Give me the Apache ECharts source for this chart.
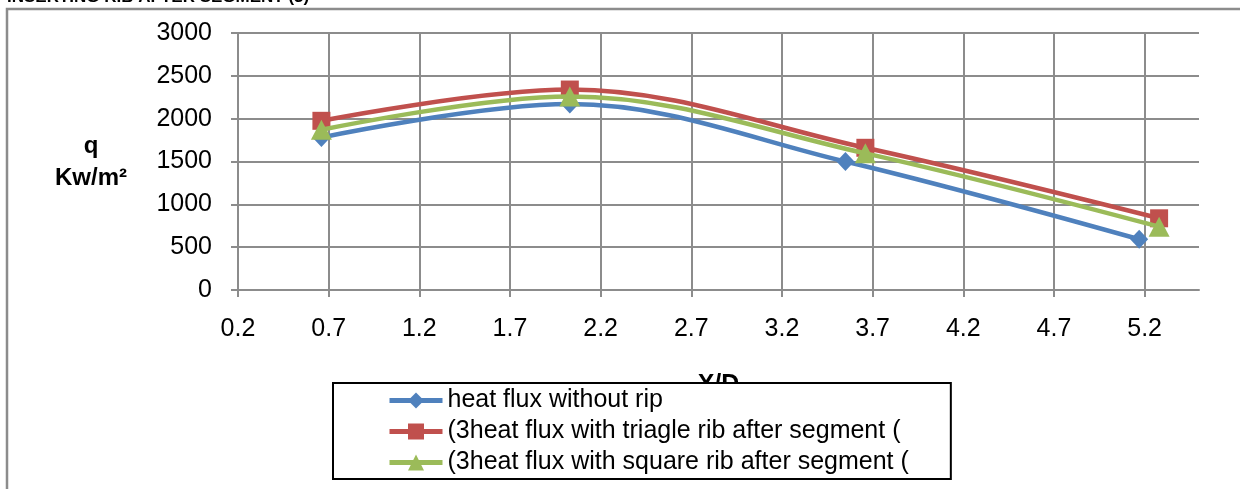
<!DOCTYPE html>
<html>
<head>
<meta charset="utf-8">
<script src="https://cdn.jsdelivr.net/npm/echarts@6/dist/echarts.min.js"></script>
<style>
html,body{margin:0;padding:0;background:#fff;}
#chart{width:1240px;height:489px;}
</style>
</head>
<body>
<div id="chart"></div>
<script>
// ---- data ----
var seriesNames = [
  'heat flux without rip',
  '(3heat flux with triagle rib after segment (',
  '(3heat flux with square rib after segment ('
];
var blueX  = [0.66, 2.03, 3.55, 5.17];
var blueY  = [1780, 2170, 1500, 592];
var redX   = [0.66, 2.03, 3.66, 5.28];
var redY   = [1975, 2340, 1660, 837];
var greenX = [0.66, 2.03, 3.66, 5.28];
var greenY = [1870, 2260, 1595, 739];
var xTicks = { min: 0.2, max: 5.5, step: 0.5 };
var yTicks = { min: 0, max: 3000, step: 500 };
var yTitle = ['q', 'Kw/m\u00B2'];
var xTitle = 'X/D';
var topCaption = 'INSERTING RIB AFTER SEGMENT (3)';

function pairs(xs, ys) { return xs.map(function (x, i) { return [x, ys[i]]; }); }

var colors = ['#4F81BD', '#C0504D', '#9BBB59'];
var symbols = ['diamond', 'rect', 'triangle'];
var symSizes = [[18, 19], 18, [21, 20]];
var dataSets = [pairs(blueX, blueY), pairs(redX, redY), pairs(greenX, greenY)];

var FONT = 'Liberation Sans, Arial, sans-serif';
var gridColor = '#8c8c8c';

var chart = echarts.init(document.getElementById('chart'), null, { renderer: 'canvas' });
chart.setOption({
  animation: false,
  backgroundColor: '#fff',
  grid: { left: 238, right: 41, top: 33, bottom: 199, containLabel: false },
  xAxis: {
    type: 'value',
    min: xTicks.min, max: xTicks.max, interval: xTicks.step,
    name: xTitle, nameLocation: 'middle', nameGap: 83,
    nameTextStyle: { fontFamily: FONT, fontSize: 25, fontWeight: 'bold', color: '#000' },
    axisLine: { show: true, lineStyle: { color: gridColor, width: 2 } },
    axisTick: { show: true, length: 7, lineStyle: { color: gridColor, width: 2 } },
    axisLabel: {
      show: true, margin: 27, color: '#000', fontFamily: FONT, fontSize: 25,
      showMaxLabel: false, showMinLabel: true,
      formatter: function (v) { return (Math.round(v * 10) / 10).toFixed(1); }
    },
    splitLine: { show: true, showMinLine: false, showMaxLine: false, lineStyle: { color: gridColor, width: 2 } }
  },
  yAxis: {
    type: 'value',
    min: yTicks.min, max: yTicks.max, interval: yTicks.step,
    axisLine: { show: true, lineStyle: { color: gridColor, width: 2 } },
    axisTick: { show: true, length: 7, lineStyle: { color: gridColor, width: 2 } },
    axisLabel: { margin: 26, color: '#000', fontFamily: FONT, fontSize: 25,
      formatter: function (v) { return String(Math.round(v)); } },
    splitLine: { show: true, lineStyle: { color: gridColor, width: 2 } }
  },
  legend: {
    orient: 'vertical',
    left: 333, top: 383,
    padding: [5, 42, 4, 54],
    itemGap: 6,
    itemWidth: 53, itemHeight: 20,
    backgroundColor: '#fff',
    borderColor: '#000', borderWidth: 2,
    lineStyle: { width: 5 },
    textStyle: { fontFamily: FONT, fontSize: 25, color: '#000' },
    data: seriesNames
  },
  series: seriesNames.map(function (n, i) {
    return {
      name: n, type: 'line',
      data: dataSets[i],
      smooth: 0.35,
      symbol: symbols[i], symbolSize: symSizes[i],
      showAllSymbol: true,
      lineStyle: { color: colors[i], width: 4.5 },
      itemStyle: { color: colors[i] },
      z: 3 + i
    };
  }),
  graphic: [
    { type: 'rect', silent: true, shape: { x: 7, y: 9, width: 1400, height: 700 },
      style: { fill: 'none', stroke: '#8c8c8c', lineWidth: 2.5 } },
    { type: 'text', silent: true, x: 7, y: 6,
      style: { text: topCaption, font: 'bold 17px ' + FONT, fill: '#000', verticalAlign: 'bottom', align: 'left' } },
    { type: 'text', silent: true, x: 91, y: 146,
      style: { text: yTitle[0], font: 'bold 24px ' + FONT, fill: '#000', align: 'center', verticalAlign: 'middle' } },
    { type: 'text', silent: true, x: 91, y: 178,
      style: { text: yTitle[1], font: 'bold 24px ' + FONT, fill: '#000', align: 'center', verticalAlign: 'middle' } }
  ]
});
</script>
</body>
</html>
